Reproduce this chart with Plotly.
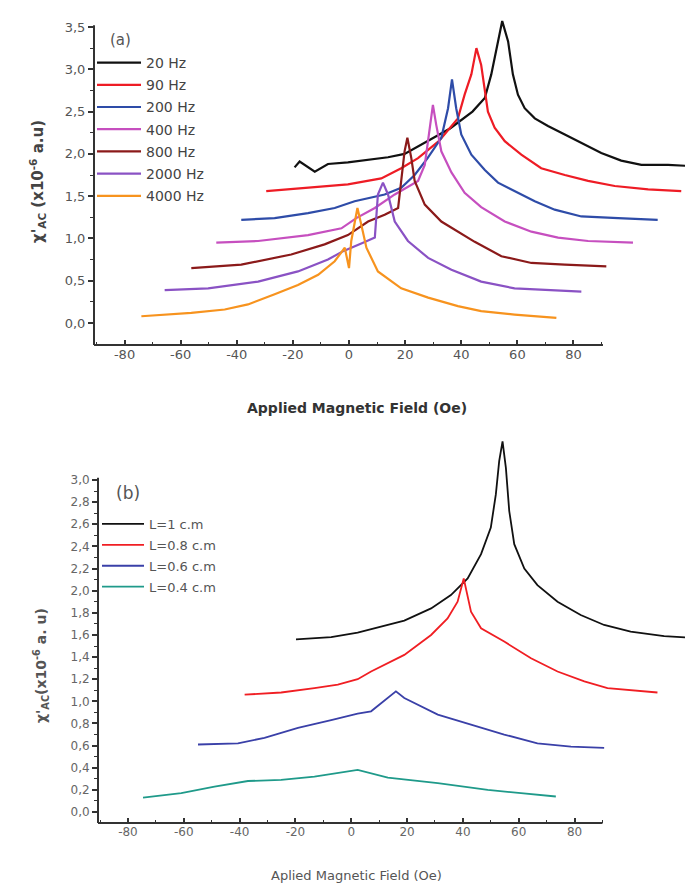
import plotly.graph_objects as go

# ---------------- Panel (a): frequency dependence ----------------
freq_labels = ["20 Hz", "90 Hz", "200 Hz", "400 Hz", "800 Hz", "2000 Hz", "4000 Hz"]

a20_x = [-19.4, -17.6, -12.2, -7.5, -0.4, 6.8, 13.9, 19.8, 28, 36, 44, 48.4, 50.7, 51.9, 53.1, 54.6, 56.7, 58.4, 60.2, 62.6, 66.2, 70.9, 76.9, 82.8, 89.9, 97, 104.2, 113.7, 125]
a20_y = [1.84, 1.91, 1.79, 1.88, 1.90, 1.93, 1.96, 2.00, 2.15, 2.30, 2.50, 2.66, 2.94, 3.13, 3.33, 3.57, 3.33, 2.94, 2.70, 2.54, 2.42, 2.33, 2.23, 2.13, 2.01, 1.92, 1.87, 1.87, 1.85]

a90_x = [-29.5, -14.6, -0.4, 11.5, 18.6, 24.6, 32, 38.8, 41.2, 43.6, 45.4, 47.1, 48.4, 49.5, 51.9, 55.5, 61.4, 68.5, 76.9, 85.2, 94.7, 106.6, 118.4]
a90_y = [1.56, 1.60, 1.64, 1.71, 1.83, 1.95, 2.15, 2.42, 2.70, 2.94, 3.25, 3.05, 2.74, 2.50, 2.31, 2.15, 1.99, 1.83, 1.75, 1.68, 1.62, 1.58, 1.56]

a200_x = [-38.4, -26.5, -14.6, -5.1, 2.0, 12.7, 18.6, 23.4, 28, 32.9, 35.3, 36.7, 38.2, 40, 43.6, 48.4, 53.1, 59, 66.2, 73.3, 82.8, 95.9, 110]
a200_y = [1.22, 1.24, 1.30, 1.36, 1.44, 1.52, 1.60, 1.75, 1.95, 2.19, 2.54, 2.88, 2.54, 2.23, 1.99, 1.81, 1.66, 1.56, 1.44, 1.34, 1.26, 1.24, 1.22]

a400_x = [-47.3, -32.4, -14.6, -2.7, 2.6, 9.2, 16.3, 24.6, 27, 28.8, 29.9, 31.1, 32.9, 36.5, 41.2, 47.1, 55.5, 65, 74.5, 85.2, 95.9, 101.2]
a400_y = [0.95, 0.97, 1.04, 1.12, 1.24, 1.36, 1.52, 1.68, 1.87, 2.34, 2.58, 2.34, 2.03, 1.78, 1.54, 1.37, 1.20, 1.08, 1.01, 0.97, 0.96, 0.95]

a800_x = [-56.2, -38.4, -20.6, -8.7, -0.4, 6.8, 12.7, 17.5, 18.6, 19.8, 20.8, 22.2, 23.4, 27, 32.9, 38, 44.8, 54.3, 65, 76.9, 91.7]
a800_y = [0.65, 0.69, 0.81, 0.93, 1.04, 1.20, 1.28, 1.36, 1.68, 2.03, 2.19, 1.95, 1.68, 1.40, 1.20, 1.10, 0.96, 0.79, 0.71, 0.69, 0.67]

a2000_x = [-65.7, -50.2, -32.4, -18.2, -7.5, -2.1, 5, 9.2, 10.3, 12.1, 13.9, 16.3, 21, 28.2, 36.5, 47.1, 59, 70.9, 82.8]
a2000_y = [0.39, 0.41, 0.49, 0.61, 0.75, 0.85, 0.95, 1.01, 1.52, 1.66, 1.52, 1.20, 0.97, 0.77, 0.63, 0.49, 0.41, 0.39, 0.37]

a4000_x = [-74, -56.2, -44.3, -36, -26.5, -18.2, -11, -5.1, -1.5, 0, 0.8, 2, 3, 4.4, 6.2, 10.3, 18.6, 28.2, 38.8, 47.1, 59, 73.9]
a4000_y = [0.08, 0.12, 0.16, 0.22, 0.34, 0.45, 0.57, 0.73, 0.89, 0.65, 0.97, 1.20, 1.36, 1.16, 0.89, 0.61, 0.41, 0.30, 0.20, 0.14, 0.10, 0.06]

a_colors = ["#111111", "#ee1c25", "#2e4ca8", "#c64fbf", "#8b1a1a", "#8a52c4", "#f7931e"]

# ---------------- Panel (b): length dependence ----------------
len_labels = ["L=1 c.m", "L=0.8 c.m", "L=0.6 c.m", "L=0.4 c.m"]

b10_x = [-19.8, -7.2, 2.3, 7.1, 19, 28.6, 35.7, 41.7, 46.5, 50, 51.8, 53, 54.2, 55.4, 56.6, 58.4, 62, 66.7, 73.9, 82.2, 90.6, 100.1, 112.1, 125]
b10_y = [1.56, 1.58, 1.62, 1.65, 1.73, 1.84, 1.96, 2.11, 2.33, 2.57, 2.87, 3.17, 3.35, 3.11, 2.72, 2.42, 2.20, 2.05, 1.90, 1.78, 1.69, 1.63, 1.59, 1.57]

b08_x = [-38.2, -25.1, -13.2, -4.8, 2.3, 7.1, 19, 28.6, 34.5, 38.1, 40.3, 41.7, 42.9, 46.5, 54.8, 64.4, 73.9, 83.5, 91.8, 109.7]
b08_y = [1.06, 1.08, 1.12, 1.15, 1.20, 1.27, 1.42, 1.60, 1.75, 1.90, 2.11, 1.96, 1.81, 1.66, 1.54, 1.39, 1.27, 1.18, 1.12, 1.08]

b06_x = [-54.9, -40.6, -31.1, -19.1, -7.2, 2.3, 7.1, 16, 19, 31, 42.9, 54.8, 66.7, 78.7, 90.6]
b06_y = [0.61, 0.62, 0.67, 0.76, 0.83, 0.89, 0.91, 1.09, 1.03, 0.88, 0.79, 0.70, 0.62, 0.59, 0.58]

b04_x = [-74.6, -60.9, -49, -37, -25.1, -13.2, 2.3, 13.1, 31, 48.9, 60.8, 73.3]
b04_y = [0.13, 0.17, 0.23, 0.28, 0.29, 0.32, 0.38, 0.31, 0.26, 0.20, 0.17, 0.14]

b_colors = ["#111111", "#f01e23", "#3a40a8", "#1f9a8a"]

# tick labels
a_xticks = [-80, -60, -40, -20, 0, 20, 40, 60, 80]
a_yticks = [0.0, 0.5, 1.0, 1.5, 2.0, 2.5, 3.0, 3.5]
b_yticks = [0.0, 0.2, 0.4, 0.6, 0.8, 1.0, 1.2, 1.4, 1.6, 1.8, 2.0, 2.2, 2.4, 2.6, 2.8, 3.0]

a_series = [(a20_x, a20_y), (a90_x, a90_y), (a200_x, a200_y), (a400_x, a400_y),
            (a800_x, a800_y), (a2000_x, a2000_y), (a4000_x, a4000_y)]
b_series = [(b10_x, b10_y), (b08_x, b08_y), (b06_x, b06_y), (b04_x, b04_y)]

W, H = 693, 884
fig = go.Figure()

for i, ((xs, ys), name, col) in enumerate(zip(a_series, freq_labels, a_colors)):
    fig.add_trace(go.Scatter(x=xs, y=ys, mode="lines", name=name,
                             line=dict(color=col, width=2.2),
                             xaxis="x", yaxis="y", legend="legend",
                             legendgroup="a%d" % i))

for i, ((xs, ys), name, col) in enumerate(zip(b_series, len_labels, b_colors)):
    fig.add_trace(go.Scatter(x=xs, y=ys, mode="lines", name=name,
                             line=dict(color=col, width=1.8),
                             xaxis="x2", yaxis="y2", legend="legend2",
                             legendgroup="b%d" % i))

FONT = "DejaVu Sans"
AX = "#333333"

a_xr = [-90.88, 125.44]
a_yr = [-0.26, 3.642]
b_xr = [-90.73, 125.3]
b_yr = [-0.0994, 3.425]

common_x = dict(showline=False, showgrid=False, zeroline=False,
                ticks="inside", ticklen=5, tickwidth=1.5, tickcolor=AX,
                tickmode="array", tickvals=a_xticks,
                ticktext=[str(v) for v in a_xticks])

fig.update_layout(
    width=W, height=H,
    margin=dict(l=0, r=0, t=0, b=0),
    paper_bgcolor="white", plot_bgcolor="white",
    separators=",.",
    xaxis=dict(domain=[86 / W, 1], range=a_xr, anchor="y",
               tickfont=dict(family=FONT, size=13, color="#555555"),
               minor=dict(ticks="inside", ticklen=3, tickcolor=AX, tickwidth=1.2,
                          tickmode="array", tickvals=[-90, -70, -50, -30, -10, 10, 30, 50, 70, 90]),
               **common_x),
    yaxis=dict(domain=[1 - 337 / H, 1 - 7 / H], range=a_yr, anchor="x",
               showline=False, showgrid=False, zeroline=False,
               ticks="outside", ticklen=5, tickwidth=1.5, tickcolor=AX,
               tickmode="array", tickvals=a_yticks, tickformat=".1f",
               tickfont=dict(family=FONT, size=13, color="#555555"),
               minor=dict(ticks="outside", ticklen=3, tickcolor=AX, tickwidth=1.2,
                          tickmode="array", tickvals=[0.25, 0.75, 1.25, 1.75, 2.25, 2.75, 3.25])),
    xaxis2=dict(domain=[90 / W, 1], range=b_xr, anchor="y2",
                tickfont=dict(family=FONT, size=12, color="#666666"),
                minor=dict(ticks="inside", ticklen=3, tickcolor=AX, tickwidth=1.2,
                           tickmode="array", tickvals=[-90, -70, -50, -30, -10, 10, 30, 50, 70, 90]),
                **common_x),
    yaxis2=dict(domain=[1 - 815 / H, 1 - 425 / H], range=b_yr, anchor="x2",
                showline=False, showgrid=False, zeroline=False,
                ticks="outside", ticklen=5, tickwidth=1.5, tickcolor=AX,
                tickmode="array", tickvals=b_yticks, tickformat=".1f",
                tickfont=dict(family=FONT, size=12, color="#666666"),
                minor=dict(ticks="outside", ticklen=3, tickcolor=AX, tickwidth=1.2,
                           tickmode="array", tickvals=[v + 0.1 for v in b_yticks[:-1]])),
    legend=dict(x=84 / W, y=1 - 39 / H, xanchor="left", yanchor="top",
                bgcolor="rgba(0,0,0,0)", borderwidth=0, tracegroupgap=1,
                itemwidth=44,
                font=dict(family=FONT, size=14, color="#444444")),
    legend2=dict(x=89 / W, y=1 - 501 / H, xanchor="left", yanchor="top",
                 bgcolor="rgba(0,0,0,0)", borderwidth=0, tracegroupgap=1,
                 itemwidth=42,
                 font=dict(family=FONT, size=13, color="#555555")),
    showlegend=True,
)

# axis lines (the data run past the end of the drawn axis)
fig.add_shape(type="line", xref="x domain", yref="y", x0=0, x1=0, y0=a_yr[0], y1=3.52,
              line=dict(color=AX, width=2))
fig.add_shape(type="line", xref="x", yref="y domain", x0=a_xr[0], x1=90.5, y0=0, y1=0,
              line=dict(color=AX, width=2))
fig.add_shape(type="line", xref="x2 domain", yref="y2", x0=0, x1=0, y0=b_yr[0], y1=3.02,
              line=dict(color=AX, width=2))
fig.add_shape(type="line", xref="x2", yref="y2 domain", x0=b_xr[0], x1=90.0, y0=0, y1=0,
              line=dict(color=AX, width=2))

def px(x, y):
    return dict(x=x / W, y=1 - y / H, xref="paper", yref="paper")

fig.add_annotation(text="(a)", showarrow=False, font=dict(family=FONT, size=15, color="#555555"),
                   xanchor="center", yanchor="middle", **px(112, 32))
fig.add_annotation(text="(b)", showarrow=False, font=dict(family=FONT, size=17, color="#555555"),
                   xanchor="center", yanchor="middle", **px(120, 485))
fig.add_annotation(text="<b>Applied Magnetic Field (Oe)</b>", showarrow=False,
                   font=dict(family=FONT, size=14, color="#333333"),
                   xanchor="center", yanchor="middle", **px(349, 400))
fig.add_annotation(text="Aplied Magnetic Field (Oe)", showarrow=False,
                   font=dict(family=FONT, size=13, color="#555555"),
                   xanchor="center", yanchor="middle", **px(348, 867))
fig.add_annotation(text="<b>χ'<sub>AC</sub> (x10<sup>-6</sup> a.u)</b>", showarrow=False, textangle=-90,
                   font=dict(family=FONT, size=15, color="#444444"),
                   xanchor="center", yanchor="middle", **px(30, 174))
fig.add_annotation(text="<b>χ'<sub>AC</sub>(x10<sup>-6</sup> a. u)</b>", showarrow=False, textangle=-90,
                   font=dict(family=FONT, size=14, color="#555555"),
                   xanchor="center", yanchor="middle", **px(33, 658))

fig.write_html("out.html")
